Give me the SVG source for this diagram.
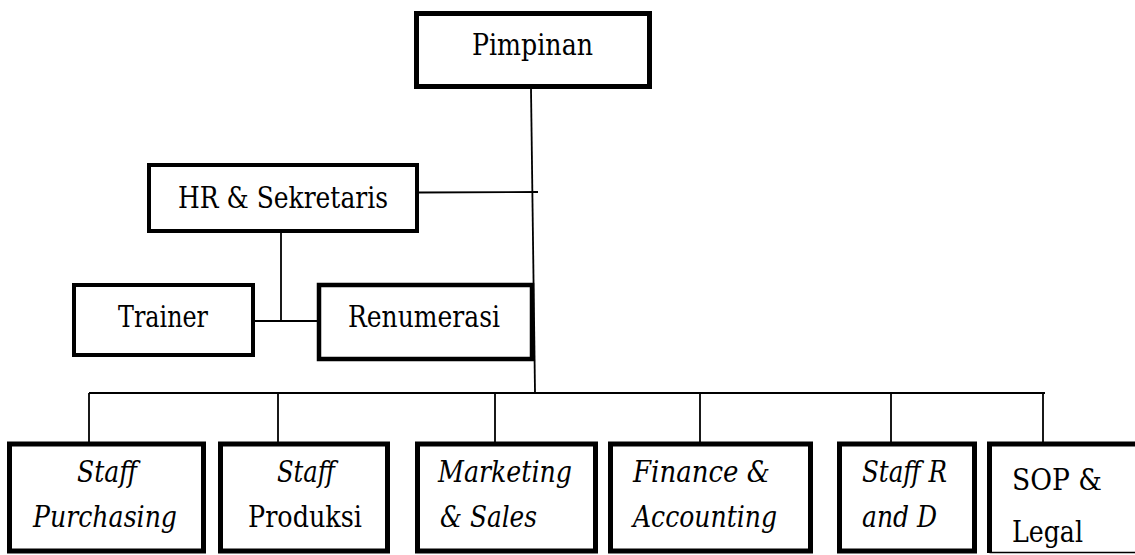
<svg xmlns="http://www.w3.org/2000/svg" width="1135" height="555" viewBox="0 0 1135 555">
<style>
.box{fill:#fff;stroke:#000;stroke-width:5}
.box4{fill:#fff;stroke:#000;stroke-width:4}
text{font-family:'DejaVu Serif','Noto Serif','Liberation Serif',serif;font-size:30px;fill:#000}
.c{text-anchor:middle}
.i{font-style:italic}
.conn line{stroke:#000;stroke-width:1.8;fill:none}
</style>
<rect width="1135" height="555" fill="#fff"/>
<g id="connectors" class="conn">
<line x1="531" y1="89" x2="535" y2="392"/>
<line x1="419" y1="192.5" x2="538" y2="192"/>
<line x1="281" y1="233" x2="281" y2="321"/>
<line x1="255" y1="321" x2="317" y2="321"/>
<line x1="89" y1="393" x2="1045" y2="393"/>
<line x1="89" y1="393" x2="89" y2="442"/>
<line x1="278" y1="393" x2="278" y2="442"/>
<line x1="495" y1="393" x2="495" y2="442"/>
<line x1="700" y1="393" x2="700" y2="442"/>
<line x1="891" y1="393" x2="891" y2="442"/>
<line x1="1043" y1="393" x2="1043" y2="442"/>
</g>
<g id="pimpinan">
<rect class="box" x="416.5" y="13.5" width="233" height="73"/>
<text x="472" y="55" textLength="121" lengthAdjust="spacingAndGlyphs">Pimpinan</text>
</g>
<g id="hr">
<rect class="box4" x="149" y="165" width="268" height="66"/>
<text x="178" y="208" textLength="210" lengthAdjust="spacingAndGlyphs">HR &amp; Sekretaris</text>
</g>
<g id="trainer">
<rect class="box4" x="74" y="285" width="179" height="70"/>
<text x="118" y="327" textLength="90" lengthAdjust="spacingAndGlyphs">Trainer</text>
</g>
<g id="renumerasi">
<rect class="box4" x="319" y="285" width="213" height="74" style="stroke-width:4.5"/>
<text x="348" y="327" textLength="152" lengthAdjust="spacingAndGlyphs">Renumerasi</text>
</g>
<g id="purchasing">
<rect class="box" x="9.5" y="444" width="194" height="107"/>
<text class="i" x="77" y="482" textLength="60" lengthAdjust="spacingAndGlyphs">Staff</text>
<text class="i" x="33" y="527" textLength="144" lengthAdjust="spacingAndGlyphs">Purchasing</text>
</g>
<g id="produksi">
<rect class="box" x="220.5" y="444" width="167" height="107"/>
<text class="i" x="277" y="482" textLength="58" lengthAdjust="spacingAndGlyphs">Staff</text>
<text x="248" y="527" textLength="114" lengthAdjust="spacingAndGlyphs">Produksi</text>
</g>
<g id="marketing">
<rect class="box" x="417.5" y="444" width="178" height="107"/>
<text class="i" x="438" y="482" textLength="134" lengthAdjust="spacingAndGlyphs">Marketing</text>
<text class="i" x="440" y="527" textLength="97" lengthAdjust="spacingAndGlyphs">&amp; Sales</text>
</g>
<g id="finance">
<rect class="box" x="610.5" y="444" width="200" height="107"/>
<text class="i" x="633" y="482" textLength="137" lengthAdjust="spacingAndGlyphs">Finance &amp;</text>
<text class="i" x="633" y="527" textLength="144" lengthAdjust="spacingAndGlyphs">Accounting</text>
</g>
<g id="rnd">
<rect class="box" x="839.5" y="444" width="135" height="107"/>
<text class="i" x="862" y="482" textLength="85" lengthAdjust="spacingAndGlyphs">Staff R</text>
<text class="i" x="862" y="527" textLength="75" lengthAdjust="spacingAndGlyphs">and D</text>
</g>
<g id="sop">
<path d="M1140,444 H989.5 V553" fill="#fff" stroke="#000" stroke-width="5"/>
<line x1="989.5" y1="552.5" x2="1140" y2="552.5" stroke="#000" stroke-width="1.5"/>
<text x="1012" y="490" textLength="90" lengthAdjust="spacingAndGlyphs">SOP &amp;</text>
<text x="1012" y="542" textLength="71" lengthAdjust="spacingAndGlyphs">Legal</text>
</g>
</svg>
